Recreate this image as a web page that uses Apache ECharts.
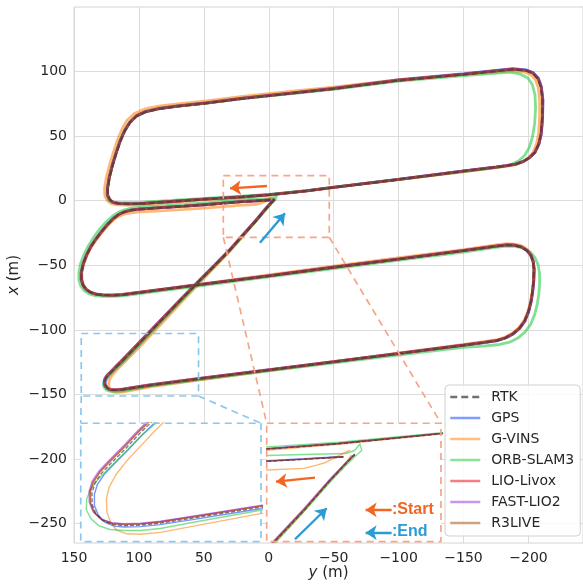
<!DOCTYPE html>
<html>
<head>
<meta charset="utf-8">
<script src="https://cdn.jsdelivr.net/npm/echarts@6/dist/echarts.min.js"></script>
<style>html,body{margin:0;padding:0;background:#fff}#c{width:583px;height:586px}</style>
</head>
<body>
<div id="c"></div>
<script>
// ---- tick labels ----
const hTicks = [150, 100, 50, 0, -50, -100, -150, -200];        // horizontal axis: y (m)
const vTicks = [-250, -200, -150, -100, -50, 0, 50, 100];        // vertical axis: x (m)

// ---- series ----
const seriesNames = ['RTK', 'GPS', 'G-VINS', 'ORB-SLAM3', 'LIO-Livox', 'FAST-LIO2', 'R3LIVE'];
const seriesColors = ['#404040', '#023eff', '#ff7c00', '#1ac938', '#e8000b', '#8b2be2', '#9f4800'];

// points are [y (m), x (m)]; upper loop, then the run from start to end
const topLIO = [[99.4,-2.3],[75,-0.6],[49.3,1.2],[20.5,3.0],[0,4.6],[-28.9,7.6],[-50.3,10.4],[-100.4,16.6],[-150.5,23.1],[-175,26.1],[-183,27.1],[-190,28.3],[-196,30.4],[-201,33.5],[-205,37.5],[-208,44],[-209.8,52],[-210.8,65],[-211,78],[-209.8,88],[-207.5,94.5],[-203.5,98.8],[-198,101],[-188,101.9],[-150.5,98],[-100.4,93.3],[-50,86.8],[-16.2,83.1],[20,79.2],[48,75.6],[70,73.2],[85,71.2],[95,68.8],[102,65.5],[107,60.5],[111,54],[114.5,46],[117.5,37],[120.5,27],[122.8,18],[124.2,9],[124,4],[122.3,0.6],[119.5,-1.4],[115,-2.2],[108,-2.4],[99.4,-2.3]];
const mainLIO = [[-1.3,0.6],[10,-0.1],[20.5,-0.7],[35,-1.9],[49.3,-3.1],[65,-4.2],[80,-5.2],[99.4,-6.5],[106,-7.3],[111,-8.6],[115.5,-10.6],[119.5,-13.6],[124,-18.2],[128.5,-23.6],[133,-29.5],[137,-35.5],[140.3,-42],[142.8,-48.5],[144.4,-55.5],[144.4,-61],[143,-65.5],[140.5,-68.8],[137,-71],[133,-72.3],[128,-72.9],[120,-73.1],[112.7,-72.7],[80,-68.4],[50,-64.5],[0,-58.1],[-50,-51.5],[-100.9,-45.1],[-150.2,-38.6],[-175,-35.2],[-183.1,-34.2],[-189,-34.4],[-194.5,-35.8],[-198.8,-38.5],[-201.8,-42.3],[-203.6,-47],[-204.3,-53],[-204,-62],[-203.2,-70],[-202,-78],[-200,-86],[-197.2,-93],[-193.2,-98.6],[-188.2,-103],[-182,-106.3],[-175.4,-108.3],[-165,-109.8],[-150.2,-111.8],[-100.9,-118.1],[-50,-124.6],[0,-130.9],[50,-137.2],[91.1,-142.5],[105.6,-144.8],[112,-145.8],[116.1,-146.2],[119.5,-146.3],[122,-146.1],[124.2,-145.3],[125.8,-143.8],[126.6,-141.8],[126.6,-139.5],[126,-137.5],[124.6,-135.4],[122.5,-133.2],[119.6,-130.3],[116.7,-127.2],[114,-124.6],[100,-110],[85,-94.3],[68,-76.6],[55,-63.3],[42,-50.2],[30,-37.9],[18.7,-25.1],[10,-15.3],[3,-6.9],[-1.5,-1.9],[-4,0.8],[-4.6,1.3]];

const topRTK = [[99.4,-2.4],[75,-0.7],[49.3,1.1],[20.5,2.9],[0,4.5],[-28.9,7.5],[-50.3,10.3],[-100.4,16.5],[-150.5,23.0],[-175,26.0],[-183,27.0],[-190,28.2],[-196,30.3],[-201,33.4],[-205,37.4],[-208,44],[-209.6,52],[-210.6,65],[-210.8,78],[-209.6,88],[-207.3,94.4],[-203.4,98.6],[-198,100.8],[-188,101.7],[-150.5,97.8],[-100.4,93.1],[-50,86.6],[-16.2,82.9],[20,79.0],[48,75.4],[70,73.0],[85,71.0],[95,68.6],[102,65.3],[107,60.3],[110.8,53.8],[114.3,45.8],[117.3,36.8],[120.3,26.8],[122.6,17.8],[124,8.8],[123.8,3.9],[122.1,0.5],[119.3,-1.5],[114.8,-2.3],[108,-2.5],[99.4,-2.4]];
const mainRTK = [[-1.3,0.5],[10,-0.2],[20.5,-0.8],[35,-2.0],[49.3,-3.2],[65,-4.3],[80,-5.3],[99.4,-6.6],[106,-7.4],[111,-8.7],[115.5,-10.7],[119.5,-13.7],[124,-18.3],[128.5,-23.7],[133,-29.6],[137,-35.6],[140.3,-42.1],[142.8,-48.6],[144.3,-55.5],[144.3,-61],[142.9,-65.5],[140.4,-68.8],[137,-71.1],[133,-72.4],[128,-73],[120,-73.2],[112.7,-72.8],[80,-68.5],[50,-64.6],[0,-58.2],[-50,-51.6],[-100.9,-45.2],[-150.2,-38.7],[-175,-35.3],[-183.1,-34.3],[-189,-34.5],[-194.5,-35.9],[-198.8,-38.6],[-201.8,-42.4],[-203.5,-47],[-204.1,-53],[-203.9,-62],[-203.1,-70],[-201.9,-78],[-199.9,-86],[-197.1,-93],[-193.1,-98.6],[-188.1,-103],[-182,-106.4],[-175.4,-108.4],[-165,-109.9],[-150.2,-111.9],[-100.9,-118.2],[-50,-124.7],[0,-131],[50,-137.4],[91.1,-142.8],[105.6,-145.1],[112,-146.1],[116.1,-146.5],[119.5,-146.6],[121.8,-146.4],[123.9,-145.6],[125.4,-144.1],[126.2,-142.1],[126.2,-139.8],[125.6,-137.8],[124.2,-135.7],[122.1,-133.5],[119.2,-130.6],[116.3,-127.5],[113.6,-124.9],[99.6,-110.3],[84.7,-94.5],[67.8,-76.8],[54.8,-63.5],[41.8,-50.4],[29.8,-38.1],[18.5,-25.3],[9.8,-15.5],[2.9,-7.1],[-1.6,-2.0],[-4.1,0.7],[-4.6,1.2]];

const topGPS = [[99.4,-2.2],[75,-0.5],[49.3,1.3],[20.5,3.1],[0,4.7],[-28.9,7.7],[-50.3,10.5],[-100.4,16.7],[-150.5,23.2],[-175,26.2],[-183,27.2],[-190,28.4],[-196,30.5],[-201,33.6],[-205,37.6],[-208,44.1],[-209.9,52],[-210.9,65],[-211.1,78],[-209.9,88.2],[-207.6,94.8],[-203.6,99.2],[-198,101.4],[-188,102.3],[-150.5,98.4],[-100.4,93.7],[-50,87.2],[-16.2,83.5],[20,79.6],[48,76.0],[70,73.6],[85,71.6],[95,69.2],[102,65.9],[107,60.9],[111.1,54.3],[114.6,46.2],[117.6,37.1],[120.6,27.1],[122.9,18.1],[124.3,9.1],[124.1,4.1],[122.4,0.7],[119.6,-1.3],[115.1,-2.1],[108,-2.3],[99.4,-2.2]];
const mainGPS = [[-1.3,0.7],[10,0.0],[20.5,-0.6],[35,-1.8],[49.3,-3.0],[65,-4.1],[80,-5.1],[99.4,-6.4],[106,-7.2],[111,-8.5],[115.5,-10.5],[119.5,-13.5],[124,-18.1],[128.5,-23.5],[133,-29.4],[137,-35.4],[140.2,-42],[142.7,-48.5],[144.2,-55.5],[144.2,-61],[142.8,-65.5],[140.3,-68.9],[136.9,-71.2],[133,-72.5],[128,-73.1],[120,-73.3],[112.7,-72.9],[80,-68.6],[50,-64.6],[0,-58.2],[-50,-51.5],[-100.9,-45],[-150.2,-38.5],[-175,-35.1],[-183.1,-34.1],[-189,-34.3],[-194.5,-35.7],[-198.8,-38.4],[-201.8,-42.2],[-203.6,-47],[-204.4,-53],[-204.1,-62],[-203.3,-70],[-202.1,-78],[-200.1,-86],[-197.3,-93.1],[-193.3,-98.7],[-188.3,-103.1],[-182,-106.4],[-175.4,-108.5],[-165,-110],[-150.2,-112],[-100.9,-118.3],[-50,-124.9],[0,-131.2],[50,-137.6],[91.1,-143.1],[105.6,-145.4],[112,-146.4],[116.1,-146.8],[119.5,-146.9],[121.6,-146.7],[123.5,-145.9],[124.9,-144.4],[125.7,-142.4],[125.7,-140.1],[125.1,-138.1],[123.7,-136],[121.6,-133.8],[118.7,-130.9],[115.8,-127.8],[113.1,-125.2],[99.2,-110.6],[84.4,-94.8],[67.6,-77],[54.7,-63.6],[41.8,-50.5],[29.8,-38.2],[18.6,-25.3],[9.9,-15.5],[2.9,-7.0],[-1.5,-1.9],[-4,0.8],[-4.5,1.3]];

const topGVINS = [[99.4,-3.2],[75,-1.5],[49.3,0.6],[20.5,2.6],[0,4.4],[-28.9,7.5],[-50.3,10.3],[-100.4,16.3],[-150.5,22.6],[-175,25.6],[-183,26.6],[-190,27.9],[-195.5,30],[-200,33.3],[-203.5,37.5],[-206.2,44],[-207.8,52],[-208.6,65],[-208.6,78],[-207.4,88],[-205.2,94],[-201.6,97.8],[-196.5,99.8],[-188,100.6],[-150.5,97.6],[-100.4,93.8],[-50,88],[-16.2,84.6],[20,80.8],[48,77.3],[70,75],[85,73.2],[96,70.9],[103.5,67.5],[109,62.5],[113,55.5],[116.5,47],[119.5,38],[122.5,28],[125,18.5],[126.5,9.5],[126.3,4],[124.5,0.2],[121.5,-2.2],[116.5,-3.2],[108,-3.4],[99.4,-3.2]];
const mainGVINS = [[-3.2,2.6],[-0.5,1.3],[1.5,0.1],[4,-1.2],[6.3,-1.9],[10,-2.9],[20.5,-3.4],[35,-4.6],[49.3,-5.7],[65,-6.7],[80,-7.6],[99.4,-8.7],[106,-9.4],[111,-10.3],[115.5,-12.0],[119.5,-14.8],[124,-19.2],[128.5,-24.6],[133,-30.5],[137,-36.5],[140.3,-43],[142.6,-49.5],[144,-56],[143.8,-61.5],[142.3,-66],[139.7,-69.3],[136.2,-71.4],[132.3,-72.6],[127.5,-73.1],[120,-73.2],[112.7,-72.6],[80,-68.2],[50,-64.1],[0,-57.4],[-50,-50.6],[-100.9,-44],[-150.2,-37.9],[-175,-34.2],[-183.1,-33.3],[-189.5,-33.6],[-195,-35.0],[-199.3,-37.8],[-202.2,-41.8],[-203.8,-46.8],[-204.3,-53],[-204,-62],[-203,-70],[-201.6,-78],[-199.5,-86],[-196.6,-92.8],[-192.5,-98.4],[-187.5,-102.6],[-181.5,-105.8],[-175,-107.8],[-165,-109.0],[-150.2,-111.2],[-100.9,-117.8],[-50,-124.7],[0,-131.6],[50,-138.3],[91.1,-144.1],[105.6,-146.8],[112,-148.0],[116.1,-148.4],[119,-148.3],[121,-147.6],[122.3,-146],[123.1,-143.8],[123.2,-141],[122.6,-138.5],[121.2,-136],[119,-133.2],[116,-130],[113,-126.8],[110.4,-124.3],[97,-110.5],[82.5,-95],[66.5,-77.6],[54,-64.5],[41.3,-51],[29.5,-38.5],[18.3,-25.6],[9.7,-15.6],[2.8,-7.2],[-1.4,-2.2],[-3.6,1.2]];

const topORB = [[99.4,-1.3],[75,0.2],[49.3,1.9],[20.5,3.6],[0,5.0],[-28.9,7.8],[-50.3,10.5],[-100.4,16.5],[-150.5,22.6],[-172,25.3],[-180,26.5],[-187,28.2],[-192.5,31],[-197,35],[-200.5,41],[-203,49],[-204.8,60],[-205.5,72],[-205,82],[-203,90],[-199.5,95],[-194,98],[-186,99.6],[-150.5,96.8],[-100.4,92.6],[-50,86.3],[-16.2,82.8],[20,79.1],[48,75.6],[70,73.3],[85,71.3],[95,69],[102,65.8],[107,61],[111,54.5],[114.5,46.5],[117.5,37.5],[120.5,27.5],[122.8,18.5],[124.4,9.5],[124.6,4.5],[123.4,0.8],[121,-1],[116,-1.5],[108,-1.5],[99.4,-1.3]];
const mainORB = [[-6.2,4.6],[-4.5,2.5],[-2,1.6],[10,1.3],[20.5,1.0],[35,-0.3],[49.3,-1.6],[65,-2.8],[80,-3.8],[99.4,-5.0],[106,-5.8],[111,-7.0],[116,-9.0],[120.5,-12.0],[125.5,-16.7],[130.5,-22.3],[135,-28.5],[139,-35],[142.5,-42],[145,-48.8],[146.3,-55.8],[146.2,-61.5],[144.8,-66.2],[142,-69.8],[138.2,-72.2],[133.8,-73.5],[128.5,-74],[120,-74.1],[112.7,-73.6],[80,-69.4],[50,-65.5],[0,-59.0],[-50,-52.5],[-100.9,-46],[-150.2,-39.8],[-175,-36.1],[-183.1,-35.1],[-190,-35.4],[-196.5,-36.8],[-201.5,-39.8],[-205,-44],[-207.4,-49.5],[-208.5,-56],[-208.6,-64],[-208,-72],[-206.8,-80],[-204.8,-88],[-201.8,-95.5],[-197.5,-101.5],[-192,-106.2],[-185.5,-109.5],[-178,-111.3],[-165,-112.5],[-150.2,-113.5],[-100.9,-119.4],[-50,-125.6],[0,-131.8],[50,-138.1],[91.1,-143.4],[105.6,-146.0],[112,-147.2],[116.1,-147.6],[119.5,-147.6],[122.5,-147.4],[124.8,-146.6],[126.4,-145.2],[127.4,-143.3],[127.3,-141],[126.5,-139],[124.8,-136.8],[122.4,-134.4],[119.3,-131.3],[116.2,-128.2],[112.5,-125.0],[98.5,-110.4],[84.2,-95],[67.5,-77.2],[54.6,-64],[41.8,-50.8],[29.8,-38.4],[18.6,-25.6],[9.9,-15.8],[2.8,-7.4],[-2,-2],[-5.2,1.2],[-6.6,2.6],[-6,4.4]];

const topFAST = [[99.4,-2.3],[75,-0.6],[49.3,1.2],[20.5,3.0],[0,4.6],[-28.9,7.6],[-50.3,10.4],[-100.4,16.6],[-150.5,23.1],[-175,26.1],[-183,27.2],[-190,28.4],[-196,30.5],[-201,33.6],[-205,37.6],[-208.1,44],[-209.9,52],[-210.9,65],[-211.1,78],[-209.9,88],[-207.6,94.6],[-203.6,98.9],[-198,101.1],[-188,102],[-150.5,98.1],[-100.4,93.4],[-50,86.9],[-16.2,83.2],[20,79.3],[48,75.7],[70,73.3],[85,71.3],[95,68.9],[102,65.6],[107,60.6],[111.1,54.1],[114.6,46.1],[117.6,37.1],[120.6,27.1],[122.9,18.1],[124.3,9.1],[124.1,4.1],[122.4,0.6],[119.6,-1.4],[115,-2.2],[108,-2.4],[99.4,-2.3]];
const mainFAST = [[-1.3,0.6],[10,-0.1],[20.5,-0.7],[35,-1.9],[49.3,-3.1],[65,-4.2],[80,-5.2],[99.4,-6.5],[106,-7.3],[111,-8.6],[115.5,-10.6],[119.6,-13.6],[124.1,-18.2],[128.6,-23.6],[133.1,-29.5],[137.1,-35.5],[140.4,-42],[142.9,-48.5],[144.5,-55.5],[144.5,-61],[143.1,-65.5],[140.6,-68.8],[137,-71],[133,-72.2],[128,-72.8],[120,-73],[112.7,-72.6],[80,-68.3],[50,-64.4],[0,-58.0],[-50,-51.4],[-100.9,-45.0],[-150.2,-38.5],[-175,-35.1],[-183.1,-34.1],[-189,-34.3],[-194.5,-35.7],[-198.8,-38.4],[-201.9,-42.2],[-203.7,-47],[-204.4,-53],[-204.1,-62],[-203.3,-70],[-202.1,-78],[-200.1,-86],[-197.3,-93],[-193.3,-98.6],[-188.3,-103],[-182,-106.3],[-175.4,-108.2],[-165,-109.7],[-150.2,-111.7],[-100.9,-118.0],[-50,-124.5],[0,-130.8],[50,-137.1],[91.1,-142.4],[105.6,-144.7],[112,-145.7],[116.1,-146.1],[119.5,-146.2],[122.1,-146],[124.4,-145.2],[126,-143.7],[126.8,-141.7],[126.8,-139.4],[126.2,-137.4],[124.8,-135.3],[122.7,-133.1],[119.8,-130.2],[116.9,-127.1],[114.2,-124.5],[100.1,-109.9],[85.1,-94.2],[68.1,-76.5],[55.1,-63.2],[42.1,-50.1],[30.1,-37.8],[18.8,-25.0],[10.1,-15.2],[3.1,-6.8],[-1.4,-1.8],[-3.9,0.9],[-4.6,1.4]];

const topR3 = [[99.4,-2.3],[75,-0.6],[49.3,1.2],[20.5,3.0],[0,4.6],[-28.9,7.6],[-50.3,10.4],[-100.4,16.6],[-150.5,23.0],[-175,26.0],[-183,27.0],[-190,28.2],[-196,30.3],[-201,33.4],[-205,37.4],[-208,44],[-209.7,52],[-210.7,65],[-210.9,78],[-209.7,88],[-207.4,94.5],[-203.5,98.8],[-198,101],[-188,101.9],[-150.5,98],[-100.4,93.3],[-50,86.8],[-16.2,83.1],[20,79.2],[48,75.6],[70,73.2],[85,71.2],[95,68.8],[102,65.5],[107,60.5],[111,54],[114.5,46],[117.5,37],[120.5,27],[122.8,18],[124.2,9],[124,4],[122.3,0.6],[119.5,-1.4],[115,-2.2],[108,-2.4],[99.4,-2.3]];
const mainR3 = [[-1.3,0.6],[10,-0.1],[20.5,-0.7],[35,-1.9],[49.3,-3.1],[65,-4.2],[80,-5.2],[99.4,-6.5],[106,-7.3],[111,-8.6],[115.5,-10.6],[119.5,-13.6],[124,-18.2],[128.5,-23.6],[133,-29.5],[137,-35.5],[140.3,-42],[142.8,-48.5],[144.4,-55.5],[144.4,-61],[143,-65.5],[140.5,-68.8],[137,-71],[133,-72.3],[128,-72.9],[120,-73.1],[112.7,-72.7],[80,-68.4],[50,-64.5],[0,-58.1],[-50,-51.5],[-100.9,-45.1],[-150.2,-38.6],[-175,-35.2],[-183.1,-34.2],[-189,-34.4],[-194.5,-35.8],[-198.8,-38.5],[-201.8,-42.3],[-203.5,-47],[-204.2,-53],[-203.9,-62],[-203.1,-70],[-201.9,-78],[-199.9,-86],[-197.1,-93],[-193.1,-98.6],[-188.1,-103],[-182,-106.3],[-175.4,-108.3],[-165,-109.8],[-150.2,-111.8],[-100.9,-118.1],[-50,-124.6],[0,-130.9],[50,-137.2],[91.1,-142.6],[105.6,-144.9],[112,-145.9],[116.1,-146.3],[119.5,-146.4],[122,-146.2],[124.2,-145.4],[125.7,-143.9],[126.5,-141.9],[126.5,-139.6],[125.9,-137.6],[124.5,-135.5],[122.4,-133.3],[119.5,-130.4],[116.6,-127.3],[113.9,-124.7],[99.9,-110.1],[84.9,-94.4],[68,-76.7],[55,-63.4],[42,-50.3],[30,-38.0],[18.7,-25.2],[10,-15.4],[3,-7.0],[-1.5,-2.0],[-4,0.7],[-4.6,1.2]];

// ---- zoom boxes & links (in main-axis data units) ----
const blueSrcBox = [[144.4,-102.8],[54.1,-102.8],[54.1,-151.2],[144.4,-151.2],[144.4,-102.8]];
const blueInsetBox = [[144.8,-172.3],[6.0,-172.3],[6.0,-264.0],[144.8,-264.0],[144.8,-172.3]];
const blueLinks = [[54.1,-151.2],[6.0,-172.3],['-','-'],[144.4,-151.2],[144.8,-172.3]];
const orangeSrcBox = [[35.0,19.4],[-46.6,19.4],[-46.6,-28.3],[35.0,-28.3],[35.0,19.4]];
const orangeInsetBox = [[1.6,-172.3],[-132.6,-172.3],[-132.6,-264.0],[1.6,-264.0],[1.6,-172.3]];
const orangeLinks = [[35.0,-28.3],[1.6,-172.3],['-','-'],[-46.6,-28.3],[-132.6,-172.3]];

// inset ranges [min,max]
const inset1Y = [91, 128.5], inset1X = [-150, -125.3];
const inset2Y = [-29.2, 20.5], inset2X = [-25.1, 10.8];

// ---- arrows (tail -> head) ----
const startArrows = [[[1.4,11.4],[29.9,9.6]], [[-35.6,-214.4],[-5.5,-217.5]], [[-94.6,-239.4],[-74.6,-239.4]]];
const endArrows = [[[6.8,-32.5],[-12.5,-9.7]], [[-20.2,-262.1],[-44.6,-238.1]], [[-94.6,-257.0],[-74.6,-257.0]]];
const startLabel = ':Start', endLabel = ':End';

const tracks = {
  'RTK': [topRTK, mainRTK], 'GPS': [topGPS, mainGPS], 'G-VINS': [topGVINS, mainGVINS],
  'ORB-SLAM3': [topORB, mainORB], 'LIO-Livox': [topLIO, mainLIO], 'FAST-LIO2': [topFAST, mainFAST], 'R3LIVE': [topR3, mainR3]
};
function joinTrack(t) { return t[0].concat([['-','-']], t[1]); }

const FONT = 'DejaVu Sans';
const minus = v => String(v).replace('-', '\u2212');
const drawOrder = ['GPS', 'G-VINS', 'ORB-SLAM3', 'LIO-Livox', 'FAST-LIO2', 'R3LIVE', 'RTK'];

const series = [];
[0, 1, 2].forEach(g => {
  drawOrder.forEach(name => {
    const i = seriesNames.indexOf(name);
    const isRTK = name === 'RTK';
    series.push({
      type: 'line', name: name, xAxisIndex: g, yAxisIndex: g,
      data: joinTrack(tracks[name]),
      symbol: 'none', showSymbol: false, smooth: false, connectNulls: false, clip: true,
      silent: true, animation: false, z: isRTK ? 3 : 2,
      itemStyle: { color: seriesColors[i] },
      lineStyle: {
        color: seriesColors[i],
        width: g === 0 ? (isRTK ? 2 : 2.8) : (isRTK ? 1.3 : 1.4),
        opacity: isRTK ? 0.7 : 0.55,
        type: isRTK ? (g === 0 ? [6, 3] : [4, 2]) : 'solid'
      }
    });
  });
});

function boxSeries(data, color) {
  return { type: 'line', data: data, xAxisIndex: 0, yAxisIndex: 0, symbol: 'none', silent: true,
    animation: false, clip: false, connectNulls: false, z: 3,
    lineStyle: { color: color, width: 1.7, type: [7, 5] } };
}
series.push(boxSeries(blueSrcBox, '#8ac8ee'), boxSeries(blueInsetBox, '#8ac8ee'), boxSeries(blueLinks, '#8ac8ee'));
series.push(boxSeries(orangeSrcBox, '#f5a688'), boxSeries(orangeInsetBox, '#f5a688'), boxSeries(orangeLinks, '#f5a688'));

function arrowSeries(list, color) {
  return { type: 'lines', coordinateSystem: 'cartesian2d', xAxisIndex: 0, yAxisIndex: 0,
    silent: true, animation: false, z: 6, symbol: ['none', 'arrow'], symbolSize: 11,
    lineStyle: { color: color, width: 2.4, opacity: 1, curveness: 0 },
    data: list.map(c => ({ coords: c })) };
}
series.push(arrowSeries(startArrows, '#f26522'), arrowSeries(endArrows, '#2b9bd5'));

const legendItems = seriesNames.map((n, i) => ({
  name: n,
  itemStyle: { opacity: 0, borderWidth: 0 },
  lineStyle: { color: seriesColors[i], width: 2.5, opacity: n === 'RTK' ? 0.75 : 0.5, type: n === 'RTK' ? [7, 4] : 'solid' }
}));

const chart = echarts.init(document.getElementById('c'), null, { renderer: 'canvas' });
chart.setOption({
  backgroundColor: '#ffffff',
  animation: false,
  textStyle: { fontFamily: FONT },
  grid: [
    { left: 74, right: 0, top: 7, bottom: 43, show: true, borderColor: '#d4d4d4', borderWidth: 1, containLabel: false, outerBoundsMode: 'none' },
    { left: 81, top: 423, width: 180, height: 119, containLabel: false, outerBoundsMode: 'none' },
    { left: 267, top: 423, width: 174, height: 119, containLabel: false, outerBoundsMode: 'none' }
  ],
  xAxis: [
    { type: 'value', gridIndex: 0, min: -242, max: 150, inverse: true,
      name: '{i|y} (m)', nameLocation: 'middle', nameGap: 23, nameMoveOverlap: false,
      nameTextStyle: { fontSize: 15, color: '#262626', fontFamily: FONT, rich: { i: { fontStyle: 'italic', fontSize: 15, color: '#262626', fontFamily: FONT } } },
      axisLine: { show: false }, axisTick: { show: false, customValues: hTicks },
      axisLabel: { customValues: hTicks, formatter: minus, fontSize: 14, color: '#262626', margin: 8, fontFamily: FONT },
      splitLine: { show: true, lineStyle: { color: '#dcdcdc', width: 1 } } },
    { type: 'value', gridIndex: 1, min: inset1Y[0], max: inset1Y[1], inverse: true, show: false, splitLine: { show: false } },
    { type: 'value', gridIndex: 2, min: inset2Y[0], max: inset2Y[1], inverse: true, show: false, splitLine: { show: false } }
  ],
  yAxis: [
    { type: 'value', gridIndex: 0, min: -265, max: 150,
      name: '{i|x} (m)', nameLocation: 'middle', nameGap: 52, nameRotate: 90, nameMoveOverlap: false,
      nameTextStyle: { fontSize: 15, color: '#262626', fontFamily: FONT, rich: { i: { fontStyle: 'italic', fontSize: 15, color: '#262626', fontFamily: FONT } } },
      axisLine: { show: false }, axisTick: { show: false, customValues: vTicks },
      axisLabel: { customValues: vTicks, formatter: minus, fontSize: 14, color: '#262626', margin: 7, fontFamily: FONT },
      splitLine: { show: true, lineStyle: { color: '#dcdcdc', width: 1 } } },
    { type: 'value', gridIndex: 1, min: inset1X[0], max: inset1X[1], show: false, splitLine: { show: false } },
    { type: 'value', gridIndex: 2, min: inset2X[0], max: inset2X[1], show: false, splitLine: { show: false } }
  ],
  legend: {
    data: legendItems, orient: 'vertical', left: 445, top: 385,
    itemWidth: 30, itemHeight: 14, itemGap: 7, padding: [5, 6, 6, 4],
    backgroundColor: 'rgba(255,255,255,0.85)', borderColor: '#d0d0d0', borderWidth: 1, borderRadius: 4,
    selectedMode: false, itemStyle: { opacity: 0, borderWidth: 0 },
    textStyle: { fontSize: 14, color: '#262626', fontFamily: FONT, padding: [0, 0, 0, 6] }
  },
  graphic: [
    { type: 'rect', z: 1, silent: true, shape: { x: 81, y: 423, width: 180, height: 119 }, style: { fill: '#ffffff' } },
    { type: 'rect', z: 1, silent: true, shape: { x: 267, y: 423, width: 174, height: 119 }, style: { fill: '#ffffff' } },
    { type: 'text', z: 7, silent: true, style: { text: startLabel, x: 392, y: 510, fill: '#f26522', font: 'bold 16px "Liberation Sans"', verticalAlign: 'middle' } },
    { type: 'text', z: 7, silent: true, style: { text: endLabel, x: 392, y: 532, fill: '#2b9bd5', font: 'bold 16px "Liberation Sans"', verticalAlign: 'middle' } }
  ],
  series: series
});
</script>
</body>
</html>
